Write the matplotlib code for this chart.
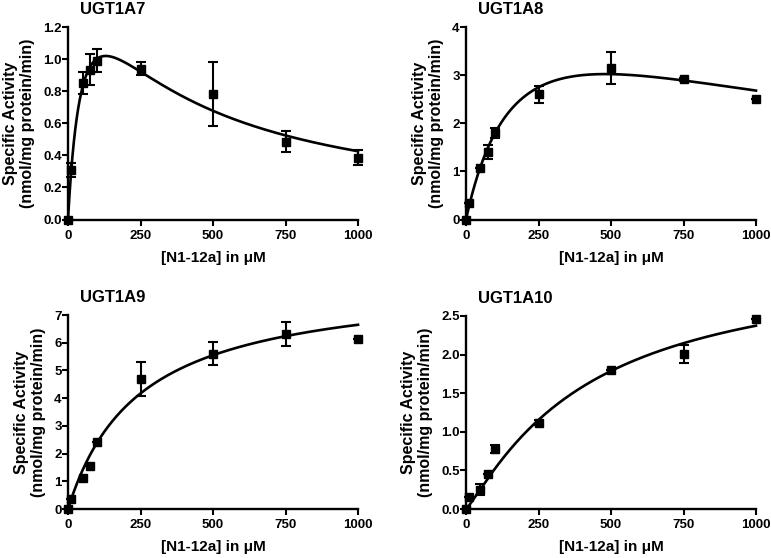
import numpy as np
import matplotlib
matplotlib.use("Agg")
import matplotlib.pyplot as plt
from matplotlib.ticker import FormatStrFormatter

plt.rcParams['font.family'] = ['Liberation Sans', 'DejaVu Sans']
plt.rcParams['font.weight'] = 'bold'

# concentrations of N1-12a (uM)
conc = [0, 10, 50, 75, 100, 250, 500, 750, 1000]

# UGT1A7 - substrate inhibition
act_1a7 = [0.0, 0.31, 0.85, 0.935, 0.99, 0.94, 0.78, 0.485, 0.385]
err_1a7 = [0.0, 0.042, 0.07, 0.098, 0.073, 0.04, 0.20, 0.064, 0.047]
fit_1a7 = (1.96, 60.0, 282.0)    # Vmax, Km, Ki

# UGT1A8 - substrate inhibition
act_1a8 = [0.0, 0.35, 1.06, 1.40, 1.80, 2.60, 3.15, 2.91, 2.50]
err_1a8 = [0.0, 0.0, 0.0, 0.14, 0.10, 0.17, 0.33, 0.03, 0.0]
fit_1a8 = (5.54, 200.0, 1152.0)

# UGT1A9 - Michaelis-Menten
act_1a9 = [0.0, 0.37, 1.13, 1.55, 2.43, 4.69, 5.60, 6.31, 6.13]
err_1a9 = [0.0, 0.0, 0.0, 0.0, 0.0, 0.60, 0.42, 0.43, 0.0]
fit_1a9 = (8.29, 247.0)          # Vmax, Km

# UGT1A10 - Hill
act_1a10 = [0.0, 0.15, 0.25, 0.45, 0.78, 1.12, 1.80, 2.01, 2.46]
err_1a10 = [0.0, 0.0, 0.07, 0.0, 0.05, 0.03, 0.0, 0.12, 0.0]
fit_1a10 = (3.25, 420.0, 1.15)   # Vmax, K, n


def subinh(s, vmax, km, ki):
    return vmax * s / (km + s * (1 + s / ki))

def mm(s, vmax, km):
    return vmax * s / (km + s)

def hill(s, vmax, k, n):
    return vmax * s ** n / (k ** n + s ** n)


panels = [
    ("UGT1A7", act_1a7, err_1a7, subinh, fit_1a7, 1.2, np.arange(0, 1.21, 0.2), '%.1f'),
    ("UGT1A8", act_1a8, err_1a8, subinh, fit_1a8, 4, np.arange(0, 5, 1), '%d'),
    ("UGT1A9", act_1a9, err_1a9, mm, fit_1a9, 7, np.arange(0, 8, 1), '%d'),
    ("UGT1A10", act_1a10, err_1a10, hill, fit_1a10, 2.5, np.arange(0, 2.51, 0.5), '%.1f'),
]

W, H = 771, 558
fig = plt.figure(figsize=(W / 100, H / 100), dpi=100)
# axes boxes in pixels: left, top(of y max), right, bottom(y=0)
boxes = [(68, 27, 358, 219.5), (466, 27, 756, 219.5),
         (68, 315, 358, 509), (466, 316, 756, 509)]

xs = np.linspace(0, 1000, 400)
for (name, act, err, func, p, ymax, yt, fmt), (l, t, r, b) in zip(panels, boxes):
    ax = fig.add_axes([l / W, 1 - b / H, (r - l) / W, (b - t) / H])
    ax.plot(xs, func(xs, *p), color='black', lw=1.9, clip_on=False, zorder=2)
    ax.errorbar(conc, act, yerr=err, fmt='s', color='black', ms=5.5,
                elinewidth=1.5, capsize=3.5, capthick=1.5, clip_on=False, zorder=3)
    ax.set_xlim(0, 1000)
    ax.set_ylim(0, ymax)
    ax.set_xticks([0, 250, 500, 750, 1000])
    ax.set_yticks(yt)
    ax.yaxis.set_major_formatter(FormatStrFormatter(fmt))
    for s in ['top', 'right']:
        ax.spines[s].set_visible(False)
    for s in ['left', 'bottom']:
        ax.spines[s].set_linewidth(1.7)
    ax.tick_params(direction='out', length=4, width=1.5, labelsize=9.5)
    ax.tick_params(axis='y', pad=0.5)
    ax.tick_params(axis='x', pad=3.5)
    for lab in ax.get_xticklabels() + ax.get_yticklabels():
        lab.set_fontweight('bold')
    ax.set_xlabel('[N1-12a] in μM', fontsize=11, fontweight='bold', labelpad=6.5)
    ax.set_ylabel('Specific Activity\n(nmol/mg protein/min)', fontsize=11.5,
                  fontweight='bold', labelpad=6, linespacing=1.15)
    ax.text(0.041, 1.068, name, transform=ax.transAxes, fontsize=12,
            fontweight='bold', va='baseline', ha='left')

fig.savefig('out.png', dpi=100)
